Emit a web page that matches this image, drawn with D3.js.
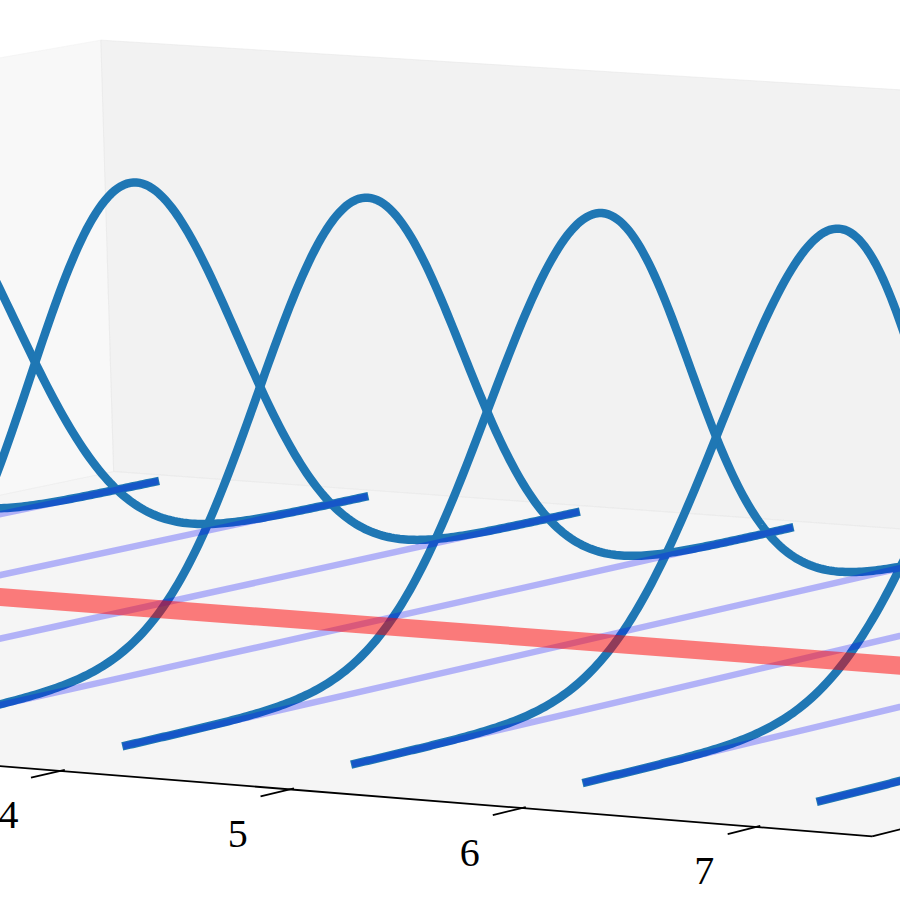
<!DOCTYPE html>
<html>
<head>
<meta charset="utf-8">
<script src="https://cdn.jsdelivr.net/npm/d3@7"></script>
<style>
  body { margin: 0; background: #fff; }
  svg { display: block; }
</style>
</head>
<body>
<div id="chart-area"></div>
<script>
// data: one normal curve per x, all with the same mean
let xValues = [0, 1, 2, 3, 4, 5, 6, 7];
let muValues = [0, 0, 0, 0, 0, 0, 0, 0];
let sigma = 1;
let yHalf = 4.5;          // curves drawn over mu +/- yHalf
let xTicks = [4, 5, 6, 7]; // the ticks that fall inside the picture

let width = 900, height = 900;

let svg = d3.select('#chart-area').append('svg')
  .attr('width', width)
  .attr('height', height);

let pdf = (y, mu) => Math.exp(-0.5 * ((y - mu) / sigma) ** 2) / (sigma * Math.sqrt(2 * Math.PI));
let zPeak = pdf(0, 0);

// 3d view (perspective camera, data coords -> pixels)
let camera = [
  [214.34061, 99.782887, -45.835787, -288.87962],
  [13.160124, -17.111682, -1078.8476, 574.88014],
  [-0.0053531587, 0.0074402493, -0.13852569, 1]
];
let pad = { x: 0.07, y: 0.07, z: 0.025 };

function paneLimits(lo, hi, m) {
  let r = hi - lo;
  return [lo - m * r, hi + m * r];
}
let [xp0, xp1] = paneLimits(d3.min(xValues), d3.max(xValues), pad.x);
let [yp0, yp1] = paneLimits(d3.min(muValues) - yHalf, d3.max(muValues) + yHalf, pad.y);
let [zp0, zp1] = paneLimits(0, zPeak, pad.z);

function project(x, y, z) {
  let p = camera;
  let w = p[2][0] * x + p[2][1] * y + p[2][2] * z + p[2][3];
  return [(p[0][0] * x + p[0][1] * y + p[0][2] * z + p[0][3]) / w,
          (p[1][0] * x + p[1][1] * y + p[1][2] * z + p[1][3]) / w];
}

let line3 = d3.line()
  .x(d => project(d[0], d[1], d[2])[0])
  .y(d => project(d[0], d[1], d[2])[1]);

// panes
let panes = [
  { fill: 'rgba(242,242,242,0.5)', pts: [[xp0, yp0, zp0], [xp0, yp1, zp0], [xp0, yp1, zp1], [xp0, yp0, zp1]] },
  { fill: 'rgba(230,230,230,0.5)', pts: [[xp0, yp1, zp0], [xp1, yp1, zp0], [xp1, yp1, zp1], [xp0, yp1, zp1]] },
  { fill: 'rgba(236,236,236,0.5)', pts: [[xp0, yp0, zp0], [xp1, yp0, zp0], [xp1, yp1, zp0], [xp0, yp1, zp0]] }
];
svg.selectAll('path.pane')
  .data(panes)
  .enter()
  .append('path')
  .attr('class', 'pane')
  .attr('d', d => line3(d.pts) + 'Z')
  .attr('fill', d => d.fill)
  .attr('stroke', d => d.fill)
  .attr('stroke-width', 1);

// axis lines + x ticks
let axisLines = [
  [[xp0, yp0, zp0], [xp1, yp0, zp0]],
  [[xp1, yp0, zp0], [xp1, yp1, zp0]]
];
svg.selectAll('path.axis')
  .data(axisLines)
  .enter()
  .append('path')
  .attr('class', 'axis')
  .attr('d', d => line3(d))
  .attr('fill', 'none')
  .attr('stroke', '#000')
  .attr('stroke-width', 1.8);

svg.selectAll('path.tick')
  .data(xTicks)
  .enter()
  .append('path')
  .attr('class', 'tick')
  .attr('d', t => line3([[t, yp0 + 0.04, zp0], [t, yp0 - 0.28, zp0]]))
  .attr('fill', 'none')
  .attr('stroke', '#000')
  .attr('stroke-width', 1.8);

svg.selectAll('text.ticklabel')
  .data(xTicks)
  .enter()
  .append('text')
  .attr('class', 'ticklabel')
  .attr('x', t => project(t, yp0, zp0)[0] - 52)
  .attr('y', t => project(t, yp0, zp0)[1] + 44)
  .attr('text-anchor', 'middle')
  .attr('dominant-baseline', 'central')
  .attr('font-family', '"Liberation Serif", serif')
  .attr('font-size', 40)
  .attr('fill', '#000')
  .text(t => t);

// normal curves
let ySteps = d3.range(0, 301).map(i => -yHalf + 2 * yHalf * i / 300);
let curves = xValues.map((x, i) => ySteps.map(y => [x, muValues[i] + y, pdf(muValues[i] + y, muValues[i])]));

svg.selectAll('path.gauss')
  .data(curves)
  .enter()
  .append('path')
  .attr('class', 'gauss')
  .attr('d', line3)
  .attr('fill', 'none')
  .attr('stroke', '#1f77b4')
  .attr('stroke-width', 8.5)
  .attr('stroke-linecap', 'square');

// base lines under each curve
svg.selectAll('path.base')
  .data(xValues)
  .enter()
  .append('path')
  .attr('class', 'base')
  .attr('d', (x, i) => line3([[x, muValues[i] - yHalf, 0], [x, muValues[i] + yHalf, 0]]))
  .attr('fill', 'none')
  .attr('stroke', 'rgba(0,0,255,0.27)')
  .attr('stroke-width', 6.5)
  .attr('stroke-linecap', 'square');

// mean line
svg.append('path')
  .attr('class', 'mean')
  .attr('d', line3(xValues.map((x, i) => [x, muValues[i], 0])))
  .attr('fill', 'none')
  .attr('stroke', 'rgba(255,0,0,0.5)')
  .attr('stroke-width', 18);
</script>
</body>
</html>
